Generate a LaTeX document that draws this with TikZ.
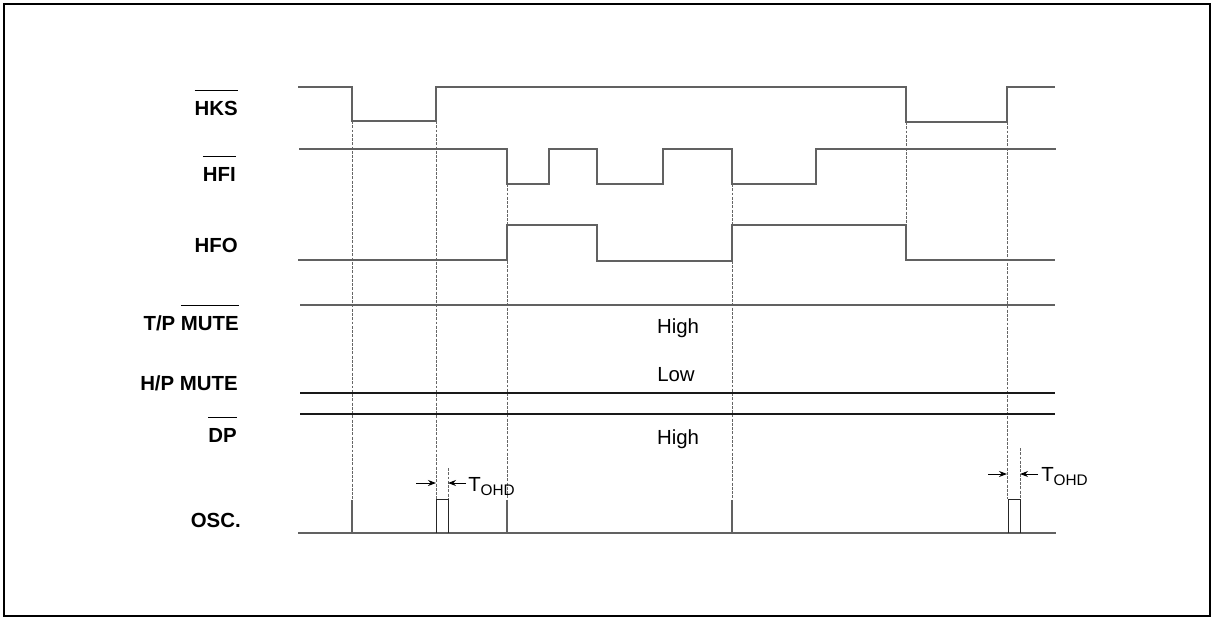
\documentclass[tikz,border=0pt]{standalone}
\usepackage{fontspec}
\setmainfont{Liberation Sans}
\usetikzlibrary{arrows.meta}
% bar drawn well above the capitals, as in the data sheet
\newcommand{\barred}[1]{\begingroup\setbox0\hbox{#1}\rlap{\raisebox{1.17em}{\rule{\wd0}{1.1pt}}}\box0\endgroup}
\newcommand{\tohd}{T\raisebox{-3pt}{\fontsize{11.5}{12}\selectfont OHD}}

\begin{document}
\begin{tikzpicture}[x=0.75pt, y=-0.75pt, font=\fontsize{15.3}{18}\selectfont,
    sig/.style={draw=black!62, line width=1.1pt},
    guide/.style={draw=black!60, dash pattern=on 2.2pt off 1pt, line width=0.75pt},
    spike/.style={draw=black!62, line width=1.7pt},
    box/.style={draw=black!85, line width=0.75pt},
    lbl/.style={anchor=base east, inner sep=0pt, font=\fontsize{15.3}{18}\selectfont\bfseries},
    lvl/.style={anchor=base, inner sep=0pt},
    tick/.style={-{Stealth[length=6pt,width=4.5pt]}, line width=0.75pt}]
  \useasboundingbox (0,0) rectangle (1213,619);
  \draw[line width=1.6pt] (4,4) rectangle (1210,616);

  % signal names
  \node[lbl] (hks)    at (238,115) {\barred{HKS}};
  \node[lbl] (hfi)    at (236,181) {\barred{HFI}};
  \node[lbl] (hfo)    at (238,252) {HFO};
  \node[lbl] (tpmute) at (239,330) {T/P \barred{MUTE}};
  \node[lbl] (hpmute) at (238,390) {H/P MUTE};
  \node[lbl] (dp)     at (237,442) {\barred{DP}};
  \node[lbl] (osc)    at (241,527) {OSC.};

  % guides
  \foreach \gx/\gy/\gz in {352/121/500, 436/121/499, 507/184/500, 732/184/500,
      906/122/225, 1007/122/499, 448/468/499, 1020/448/499}
    \draw[guide] (\gx,\gy) -- (\gx,\gz);

  % waveforms
  \draw[sig] (298,87) -- (352,87) -- (352,121) -- (436,121) -- (436,87)
    -- (906,87) -- (906,122) -- (1007,122) -- (1007,87) -- (1055,87);
  \draw[sig] (299,149) -- (507,149) -- (507,184) -- (549,184) -- (549,149)
    -- (597,149) -- (597,184) -- (663,184) -- (663,149) -- (732,149)
    -- (732,184) -- (816,184) -- (816,149) -- (1056,149);
  \draw[sig] (298,260) -- (507,260) -- (507,225) -- (597,225) -- (597,261)
    -- (732,261) -- (732,225) -- (906,225) -- (906,260) -- (1055,260);
  \draw[sig] (300,305) -- (1055,305);
  \draw[sig, draw=black!90, line width=0.8pt] (300,393) -- (1055,393);
  \draw[sig, draw=black!90, line width=0.8pt] (300,414) -- (1055,414);
  \draw[sig, line width=1.5pt] (298,533) -- (1056,533);
  \foreach \sx in {352, 507, 732}
    \draw[spike] (\sx,533) -- (\sx,500);
  \draw[box] (436,533) -- (436,499) -- (448,499) -- (448,533);
  \draw[box] (1008,533) -- (1008,499) -- (1020,499) -- (1020,533);

  % levels
  \node[lvl] (high1) at (678,333) {High};
  \node[lvl] (low)   at (676,381) {Low};
  \node[lvl] (high2) at (678,444) {High};

  % timing marks
  \coordinate (p1) at (416,483); \coordinate (q1) at (436,483);
  \coordinate (p2) at (466,483); \coordinate (q2) at (448,483);
  \draw[tick] (p1) -- (q1);
  \draw[tick] (p2) -- (q2);
  \node[anchor=base west, inner sep=0pt] (tohd1) at (468,491) {\tohd};
  \coordinate (p3) at (988,474); \coordinate (q3) at (1007,474);
  \coordinate (p4) at (1038,474); \coordinate (q4) at (1020,474);
  \draw[tick] (p3) -- (q3);
  \draw[tick] (p4) -- (q4);
  \node[anchor=base west, inner sep=0pt] (tohd2) at (1041,481) {\tohd};
\end{tikzpicture}
\end{document}
